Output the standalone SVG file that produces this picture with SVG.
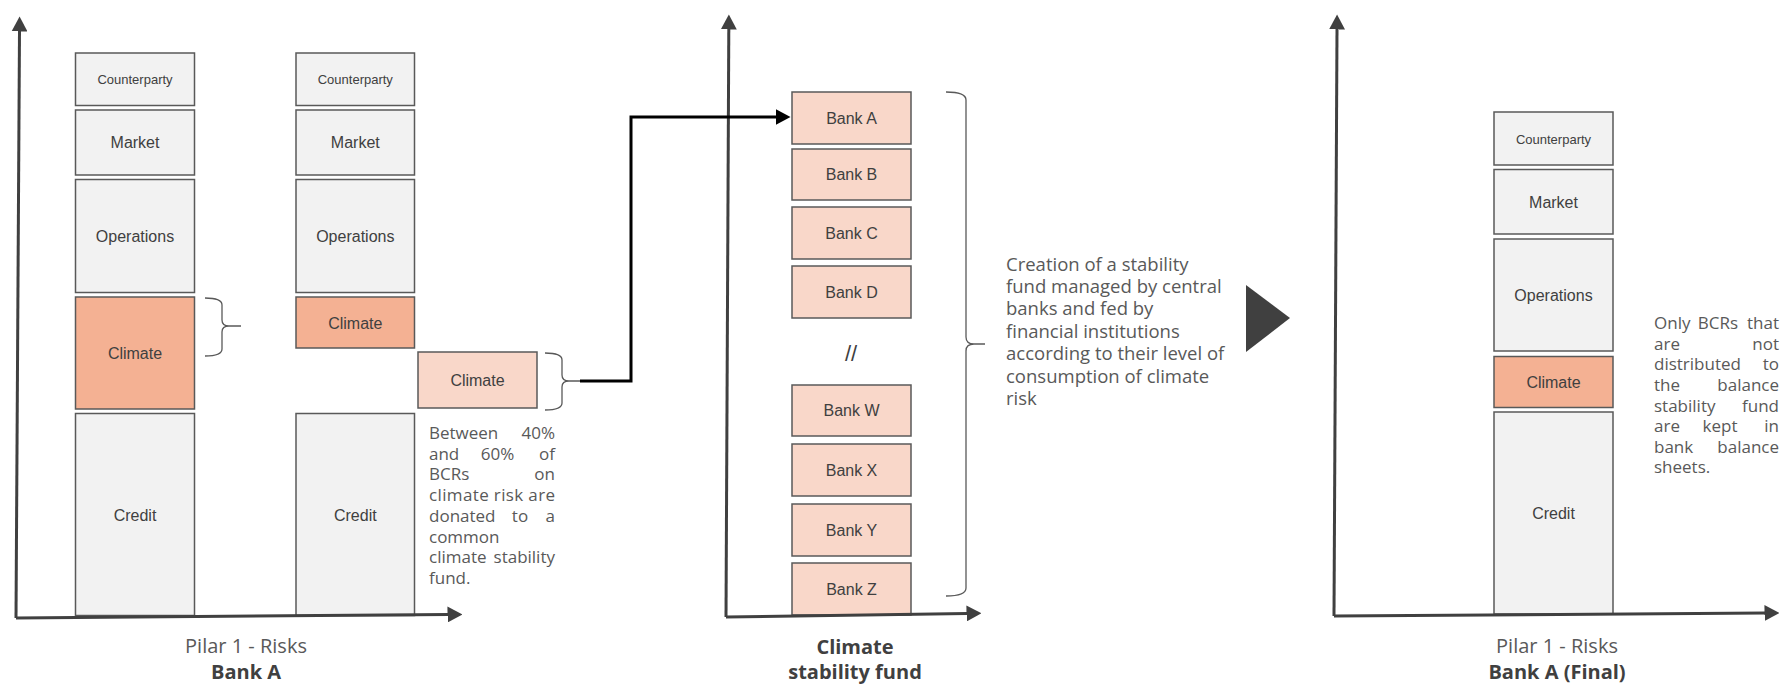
<svg xmlns="http://www.w3.org/2000/svg" width="1783" height="684" viewBox="0 0 1783 684">
<defs>
<style>
.g{fill:#f2f2f2;stroke:#595959;stroke-width:1.5}
.c{fill:#f4b193;stroke:#595959;stroke-width:1.5}
.l{fill:#f9d7c9;stroke:#595959;stroke-width:1.5}
.bt{font-family:"Liberation Sans",Arial,sans-serif;font-size:16px;fill:#404040;text-anchor:middle}
.sm{font-size:13px}
.p{font-family:"Open Sans","Liberation Sans",sans-serif;font-size:17px;fill:#595959}
.cr{font-family:"Open Sans","Liberation Sans",sans-serif;font-size:18.5px;fill:#595959}
.lab{font-family:"Open Sans","Liberation Sans",sans-serif;font-size:20px;fill:#595959;text-anchor:middle}
.bold{font-weight:bold;fill:#404040}
.ax{stroke:#404040;stroke-width:3;fill:none}
.br{stroke:#595959;stroke-width:1.3;fill:none}
.e{text-anchor:end}
.m{text-anchor:middle}
</style>
<marker id="ah" viewBox="0 0 15 16" markerWidth="15" markerHeight="16" refX="0.5" refY="8" markerUnits="userSpaceOnUse" orient="auto">
<path d="M0,0 L15,8 L0,16 z" fill="#404040"/>
</marker>
<marker id="bh" viewBox="0 0 15 16" markerWidth="15" markerHeight="16" refX="0.5" refY="8" markerUnits="userSpaceOnUse" orient="auto">
<path d="M0,0 L15,8 L0,16 z" fill="#000"/>
</marker>
</defs>
<rect width="1783" height="684" fill="#fff"/>

<g id="bankA-col1">
<rect class="g" x="75.5" y="53" width="119" height="52.5"/><text class="bt sm" x="135" y="84">Counterparty</text>
<rect class="g" x="75.5" y="110" width="119" height="65"/><text class="bt" x="135" y="148.3">Market</text>
<rect class="g" x="75.5" y="179.5" width="119" height="113"/><text class="bt" x="135" y="242">Operations</text>
<rect class="c" x="75.5" y="297" width="119" height="112"/><text class="bt" x="135" y="359">Climate</text>
<rect class="g" x="75.5" y="413.5" width="119" height="202"/><text class="bt" x="135" y="520.5">Credit</text>
</g>

<g id="bankA-col2">
<rect class="g" x="296" y="53" width="118.5" height="52.5"/><text class="bt sm" x="355.3" y="84">Counterparty</text>
<rect class="g" x="296" y="110" width="118.5" height="65"/><text class="bt" x="355.3" y="148.3">Market</text>
<rect class="g" x="296" y="179.5" width="118.5" height="113"/><text class="bt" x="355.3" y="242">Operations</text>
<rect class="c" x="296" y="297" width="118.5" height="51"/><text class="bt" x="355.3" y="328.8">Climate</text>
<rect class="g" x="296" y="413.5" width="118.5" height="202"/><text class="bt" x="355.3" y="520.5">Credit</text>
</g>

<g id="climate-share">
<rect class="l" x="418" y="352" width="119" height="56"/><text class="bt" x="477.5" y="385.7">Climate</text>
</g>

<g id="note-left">
<text class="p" y="439"><tspan x="429">Between</tspan><tspan class="e" x="555">40%</tspan></text>
<text class="p" y="459.7"><tspan x="429">and</tspan><tspan class="m" x="497.5">60%</tspan><tspan class="e" x="555">of</tspan></text>
<text class="p" y="480.4"><tspan x="429">BCRs</tspan><tspan class="e" x="555">on</tspan></text>
<text class="p" y="501.1" x="429" textLength="126" lengthAdjust="spacing">climate risk are</text>
<text class="p" y="521.8"><tspan x="429">donated</tspan><tspan class="m" x="520">to</tspan><tspan class="e" x="555">a</tspan></text>
<text class="p" y="542.5" x="429">common</text>
<text class="p" y="563.2"><tspan x="429">climate</tspan><tspan class="e" x="555">stability</tspan></text>
<text class="p" y="583.9" x="429">fund.</text>
</g>

<g id="fund-banks">
<rect class="l" x="792" y="92" width="119" height="52"/><text class="bt" x="851.5" y="123.7">Bank A</text>
<rect class="l" x="792" y="149" width="119" height="51"/><text class="bt" x="851.5" y="180.2">Bank B</text>
<rect class="l" x="792" y="207" width="119" height="52"/><text class="bt" x="851.5" y="238.7">Bank C</text>
<rect class="l" x="792" y="266" width="119" height="52"/><text class="bt" x="851.5" y="297.7">Bank D</text>
<text class="bt" x="851" y="361" style="font-size:22px">//</text>
<rect class="l" x="792" y="385" width="119" height="51"/><text class="bt" x="851.5" y="416.2">Bank W</text>
<rect class="l" x="792" y="444" width="119" height="52"/><text class="bt" x="851.5" y="475.7">Bank X</text>
<rect class="l" x="792" y="504" width="119" height="52"/><text class="bt" x="851.5" y="535.7">Bank Y</text>
<rect class="l" x="792" y="563" width="119" height="52"/><text class="bt" x="851.5" y="594.7">Bank Z</text>
</g>

<g id="note-fund">
<text class="cr" x="1006" y="270.5">Creation of a stability</text>
<text class="cr" x="1006" y="292.9">fund managed by central</text>
<text class="cr" x="1006" y="315.3">banks and fed by</text>
<text class="cr" x="1006" y="337.7">financial institutions</text>
<text class="cr" x="1006" y="360.1">according to their level of</text>
<text class="cr" x="1006" y="382.5">consumption of climate</text>
<text class="cr" x="1006" y="404.9">risk</text>
</g>

<g id="big-arrow">
<polygon points="1246,285 1290,318 1246,352" fill="#404040"/>
</g>

<g id="bankA-final">
<rect class="g" x="1494" y="112" width="119" height="53"/><text class="bt sm" x="1553.5" y="143.8">Counterparty</text>
<rect class="g" x="1494" y="169.5" width="119" height="64.5"/><text class="bt" x="1553.5" y="208">Market</text>
<rect class="g" x="1494" y="239" width="119" height="112"/><text class="bt" x="1553.5" y="301">Operations</text>
<rect class="c" x="1494" y="356.5" width="119" height="51"/><text class="bt" x="1553.5" y="387.8">Climate</text>
<rect class="g" x="1494" y="412" width="119" height="202"/><text class="bt" x="1553.5" y="519">Credit</text>
</g>

<g id="note-right">
<text class="p" y="329"><tspan x="1654">Only</tspan><tspan class="m" x="1718">BCRs</tspan><tspan class="e" x="1779">that</tspan></text>
<text class="p" y="349.6"><tspan x="1654">are</tspan><tspan class="e" x="1779">not</tspan></text>
<text class="p" y="370.3"><tspan x="1654">distributed</tspan><tspan class="e" x="1779">to</tspan></text>
<text class="p" y="390.9"><tspan x="1654">the</tspan><tspan class="e" x="1779">balance</tspan></text>
<text class="p" y="411.5"><tspan x="1654">stability</tspan><tspan class="e" x="1779">fund</tspan></text>
<text class="p" y="432.2"><tspan x="1654">are</tspan><tspan class="m" x="1720">kept</tspan><tspan class="e" x="1779">in</tspan></text>
<text class="p" y="452.8"><tspan x="1654">bank</tspan><tspan class="e" x="1779">balance</tspan></text>
<text class="p" y="473.4" x="1654">sheets.</text>
</g>

<g id="axes">
<path class="ax" d="M16,618 L19.5,31" marker-end="url(#ah)"/>
<path class="ax" d="M16,618 L448,614.5" marker-end="url(#ah)"/>
<path class="ax" d="M726,617 L728.8,29" marker-end="url(#ah)"/>
<path class="ax" d="M726,617 L967,613.5" marker-end="url(#ah)"/>
<path class="ax" d="M1334,616 L1337,29" marker-end="url(#ah)"/>
<path class="ax" d="M1334,616 L1765,613" marker-end="url(#ah)"/>
</g>

<g id="labels">
<text class="lab" x="246" y="653">Pilar 1 - Risks</text>
<text class="lab bold" x="246" y="679">Bank A</text>
<text class="lab bold" x="855" y="654">Climate</text>
<text class="lab bold" x="855" y="679">stability fund</text>
<text class="lab" x="1557" y="653">Pilar 1 - Risks</text>
<text class="lab bold" x="1557" y="679">Bank A (Final)</text>
</g>

<g id="connectors">
<path class="br" d="M205,298 Q222,298 222,305 L222,320 Q222,326 229,326 L241,326 M229,326 Q222,326 222,332 L222,349 Q222,356 205,356"/>
<path class="br" d="M545,353 Q562,353 562,360 L562,375 Q562,381 569,381 L580,381 M569,381 Q562,381 562,387 L562,403 Q562,410 545,410"/>
<path class="br" d="M946,92 Q966,92 966,100 L966,337 Q966,344 974,344 L985,344 M974,344 Q966,344 966,351 L966,588 Q966,596 946,596"/>
<path d="M580,381 H631 V117 H776" fill="none" stroke="#000" stroke-width="3" marker-end="url(#bh)"/>
</g>
</svg>
